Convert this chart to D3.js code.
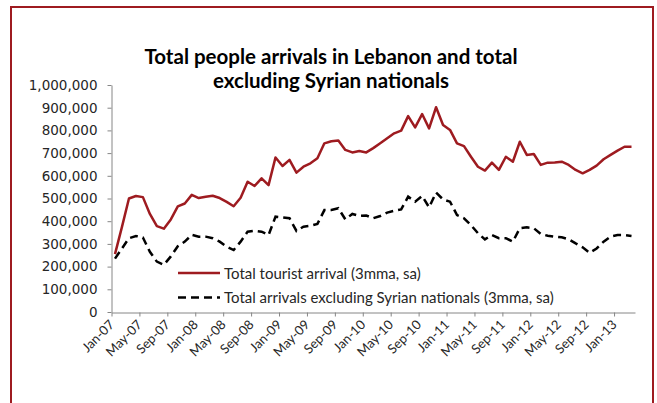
<!DOCTYPE html>
<html>
<head>
<meta charset="utf-8">
<script src="https://cdn.jsdelivr.net/npm/d3@7"></script>
<style>
  body { margin: 0; background: #fff; }
  svg { display: block; }
</style>
</head>
<body>
<svg></svg>
<script>
const WIDTH = 657;
const HEIGHT = 403;

// Monthly categories, Jan-07 to Mar-13.
const months = d3.timeMonth
  .range(new Date(2007, 0, 1), new Date(2013, 3, 1))
  .map(d3.timeFormat('%b-%y'));

// Total tourist arrivals (3mma, sa), in thousands.
const totalArrivals = [
  255, 375, 500, 511, 506, 432, 378, 367, 408, 465, 478, 516,
  502, 508, 512, 502, 485, 466, 503, 574, 555, 589, 559, 681,
  643, 670, 614, 640, 655, 677, 743, 752, 755, 714, 703, 709,
  703, 722, 743, 765, 787, 799, 863, 813, 872, 809, 902, 824,
  802, 743, 731, 684, 640, 623, 658, 626, 684, 662, 750, 692,
  696, 648, 658, 659, 662, 648, 626, 611, 626, 645, 673, 692,
  711, 728, 728
];

// Total arrivals excluding Syrian nationals (3mma, sa), in thousands.
const excludingSyrians = [
  235, 280, 325, 335, 328, 265, 222, 208, 245, 290, 310, 340,
  332, 332, 325, 310, 288, 273, 310, 354, 358, 354, 339, 420,
  417, 413, 357, 376, 380, 388, 449, 449, 457, 408, 432, 423,
  425, 413, 423, 438, 446, 452, 508, 486, 511, 461, 526, 496,
  486, 427, 413, 383, 347, 320, 339, 325, 325, 310, 369, 373,
  369, 344, 336, 332, 329, 320, 302, 285, 261, 280, 310, 332,
  339, 339, 335
];

const yTicks = d3.range(0, 1000001, 100000);
const titleLines = ['Total people arrivals in Lebanon and total', 'excluding Syrian nationals'];
const legendLabels = ['Total tourist arrival (3mma, sa)', 'Total arrivals excluding Syrian nationals (3mma, sa)'];

const RED = '#9e1b20';

const svg = d3.select('svg')
  .attr('width', WIDTH)
  .attr('height', HEIGHT)
  .attr('viewBox', `0 0 ${WIDTH} ${HEIGHT}`);

// Outer frame (open at the bottom, runs off the picture).
svg.append('rect')
  .attr('x', 11)
  .attr('y', 7)
  .attr('width', 642)
  .attr('height', 420)
  .attr('fill', 'none')
  .attr('stroke', RED)
  .attr('stroke-width', 2);

// Title.
svg.append('g')
  .selectAll('text')
  .data(titleLines)
  .join('text')
  .attr('x', 331)
  .attr('y', (d, i) => 64 + i * 24)
  .attr('text-anchor', 'middle')
  .style('font-family', 'Lato, sans-serif')
  .style('font-weight', 'bold')
  .style('font-size', '20.5px')
  .attr('fill', '#000')
  .text(d => d);

// Scales: one band per month, ticks on month boundaries.
const x = d3.scaleLinear().domain([0, months.length]).range([111.5, 635]);
const y = d3.scaleLinear().domain([0, 1000000]).range([312, 85]);

const yAxis = svg.append('g')
  .attr('transform', 'translate(111.5,0)')
  .call(d3.axisLeft(y).tickValues(yTicks).tickFormat(d3.format(',')).tickSize(4).tickSizeOuter(0));
yAxis.select('.domain').attr('stroke', '#868686');
yAxis.selectAll('.tick line').attr('stroke', '#868686');
yAxis.selectAll('.tick text')
  .attr('x', -14)
  .style('font-family', '"DejaVu Sans", Verdana, sans-serif')
  .style('font-size', '13.5px')
  .attr('fill', '#262626');

const tickIdx = d3.range(0, months.length, 4);
const xAxis = svg.append('g')
  .attr('transform', 'translate(0,312.5)')
  .call(d3.axisBottom(x).tickValues(tickIdx).tickFormat(i => months[i]).tickSize(4).tickSizeOuter(0));
xAxis.select('.domain').attr('stroke', '#868686');
xAxis.selectAll('.tick line').attr('stroke', '#868686');
xAxis.selectAll('.tick text')
  .attr('text-anchor', 'end')
  .attr('dy', null)
  .attr('y', 0)
  .attr('transform', 'translate(3,13) rotate(-45)')
  .style('font-family', 'Lato, sans-serif')
  .style('font-size', '13px')
  .attr('fill', '#262626');

const line = d3.line()
  .x((d, i) => x(i + 0.5))
  .y(d => y(d * 1000));

svg.append('path')
  .datum(totalArrivals)
  .attr('d', line)
  .attr('fill', 'none')
  .attr('stroke', RED)
  .attr('stroke-width', 2.5)
  .attr('stroke-linejoin', 'round');

svg.append('path')
  .datum(excludingSyrians)
  .attr('d', line)
  .attr('fill', 'none')
  .attr('stroke', '#000')
  .attr('stroke-width', 2.5)
  .attr('stroke-dasharray', '8,5');

// Legend.
const legend = svg.append('g')
  .selectAll('g')
  .data(legendLabels)
  .join('g')
  .attr('transform', (d, i) => `translate(178,${273 + i * 24.5})`);
legend.append('line')
  .attr('x1', 0)
  .attr('x2', 42)
  .attr('stroke', (d, i) => i === 0 ? RED : '#000')
  .attr('stroke-width', 2.5)
  .attr('stroke-dasharray', (d, i) => i === 0 ? null : '8,5');
legend.append('text')
  .attr('x', 46)
  .attr('y', 5.5)
  .style('font-family', 'Lato, sans-serif')
  .style('font-size', '15px')
  .attr('fill', '#262626')
  .text(d => d);
</script>
</body>
</html>
